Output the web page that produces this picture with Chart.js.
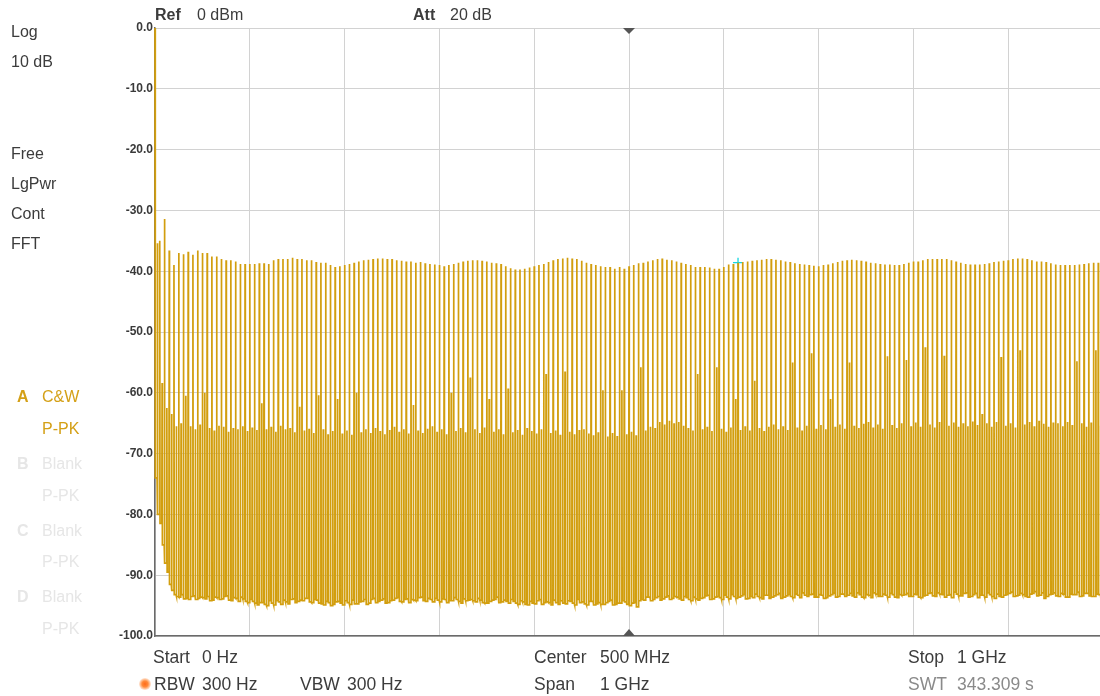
<!DOCTYPE html>
<html>
<head>
<meta charset="utf-8">
<title>Spectrum 0 Hz - 1 GHz</title>
<script src="https://cdn.jsdelivr.net/npm/chart.js@4.4.1/dist/chart.umd.min.js"></script>
<style>
  html, body { margin: 0; padding: 0; background: #fff; overflow: hidden; }
  #wrap { position: relative; width: 1100px; height: 696px; overflow: hidden;
          font-family: "Liberation Sans", Arial, sans-serif; color: #3c3c3c; }
  #plot { position: absolute; left: 0; top: 0; }
  .t { position: absolute; white-space: nowrap; line-height: 20px; font-size: 16px; }
  .b { font-size: 17.5px; }
  .bold { font-weight: bold; }
  .gold { color: #d4a017; }
  .off { color: #e6e6e6; }
  .grey { color: #8a8a8a; }
  #rbwDot { position: absolute; left: 139px; top: 678px; width: 12px; height: 12px; border-radius: 50%;
            background: radial-gradient(circle, #ff6a1a 0%, #ff8a3a 35%, rgba(255,150,80,0.35) 65%, rgba(255,170,110,0) 100%); }
</style>
</head>
<body>
<div id="wrap">
  <canvas id="plot" width="1103" height="696"></canvas>

  <!-- left status column -->
  <div class="t" style="left:11px;top:22px">Log</div>
  <div class="t" style="left:11px;top:52px">10 dB</div>
  <div class="t" style="left:11px;top:144px">Free</div>
  <div class="t" style="left:11px;top:174px">LgPwr</div>
  <div class="t" style="left:11px;top:204px">Cont</div>
  <div class="t" style="left:11px;top:234px">FFT</div>

  <div class="t bold gold" style="left:17px;top:387px">A</div>
  <div class="t gold" style="left:42px;top:387px">C&amp;W</div>
  <div class="t gold" style="left:42px;top:419px">P-PK</div>
  <div class="t bold off" style="left:17px;top:454px">B</div>
  <div class="t off" style="left:42px;top:454px">Blank</div>
  <div class="t off" style="left:42px;top:486px">P-PK</div>
  <div class="t bold off" style="left:17px;top:521px">C</div>
  <div class="t off" style="left:42px;top:521px">Blank</div>
  <div class="t off" style="left:42px;top:552px">P-PK</div>
  <div class="t bold off" style="left:17px;top:587px">D</div>
  <div class="t off" style="left:42px;top:587px">Blank</div>
  <div class="t off" style="left:42px;top:619px">P-PK</div>

  <!-- top line -->
  <div class="t bold" style="left:155px;top:5px">Ref</div>
  <div class="t" style="left:197px;top:5px">0 dBm</div>
  <div class="t bold" style="left:413px;top:5px">Att</div>
  <div class="t" style="left:450px;top:5px">20 dB</div>

  <!-- bottom lines -->
  <div class="t b" style="left:153px;top:647px">Start</div>
  <div class="t b" style="left:202px;top:647px">0 Hz</div>
  <div class="t b" style="left:534px;top:647px">Center</div>
  <div class="t b" style="left:600px;top:647px">500 MHz</div>
  <div class="t b" style="left:908px;top:647px">Stop</div>
  <div class="t b" style="left:957px;top:647px">1 GHz</div>

  <div id="rbwDot"></div>
  <div class="t b" style="left:154px;top:674px">RBW</div>
  <div class="t b" style="left:202px;top:674px">300 Hz</div>
  <div class="t b" style="left:300px;top:674px">VBW</div>
  <div class="t b" style="left:347px;top:674px">300 Hz</div>
  <div class="t b" style="left:534px;top:674px">Span</div>
  <div class="t b" style="left:600px;top:674px">1 GHz</div>
  <div class="t b grey" style="left:908px;top:674px">SWT</div>
  <div class="t b grey" style="left:957px;top:674px">343.309 s</div>
</div>

<script>
// sweep settings (MHz / dBm)
const startMHz = 0;
const stopMHz = 1000;
const centerMHz = 500;
const combStepMHz = 5;
const dcLevel = 0.0;                 // LO feedthrough at 0 Hz
// sample spots inside each 5 MHz cell: floor, floor, mid line, floor, floor, comb line
const cellOffsetsMHz = [0.3, 2.2, 2.5, 2.8, 4.7, 5];

const refLevel = 0;
const bottomLevel = -100;
const yTickStep = 10;
const xGridStep = 100;

// marker (cyan +)
const markerMHz = 615;
const markerDbm = -38.6;

// comb lines at 5, 10, ... 1000 MHz
const peakDbm = [
  -35.0, -31.4, -36.6, -39.0, -37.0, -37.2, -36.8, -37.3, -36.6, -37.0,
  -37.0, -37.6, -37.6, -38.0, -38.2, -38.2, -38.4, -38.8, -38.8, -38.8,
  -38.8, -38.7, -38.7, -38.8, -38.2, -38.0, -38.0, -38.0, -37.8, -38.0,
  -38.0, -38.2, -38.2, -38.5, -38.6, -38.6, -39.0, -39.3, -39.2, -39.0,
  -38.8, -38.6, -38.4, -38.2, -38.1, -38.0, -37.9, -37.9, -38.0, -38.0,
  -38.2, -38.3, -38.4, -38.4, -38.6, -38.5, -38.7, -38.8, -38.9, -39.0,
  -39.2, -39.0, -38.8, -38.6, -38.4, -38.3, -38.2, -38.2, -38.3, -38.4,
  -38.6, -38.7, -38.8, -39.2, -39.5, -39.7, -39.7, -39.6, -39.4, -39.2,
  -39.0, -38.8, -38.5, -38.2, -38.0, -37.9, -37.8, -37.9, -38.0, -38.3,
  -38.6, -38.8, -39.0, -39.2, -39.3, -39.3, -39.6, -39.3, -39.6, -39.2,
  -39.0, -38.7, -38.6, -38.4, -38.2, -38.0, -37.9, -38.1, -38.2, -38.4,
  -38.6, -38.8, -39.0, -39.3, -39.3, -39.3, -39.4, -39.6, -39.6, -39.3,
  -38.9, -38.8, -38.6, -38.5, -38.4, -38.3, -38.2, -38.1, -38.0, -38.0,
  -38.1, -38.2, -38.4, -38.5, -38.7, -38.8, -38.9, -39.0, -39.1, -39.2,
  -39.0, -38.9, -38.7, -38.5, -38.3, -38.2, -38.1, -38.2, -38.3, -38.4,
  -38.6, -38.7, -38.8, -38.9, -38.9, -39.0, -39.0, -38.8, -38.6, -38.4,
  -38.4, -38.2, -38.0, -38.0, -38.0, -38.0, -38.0, -38.2, -38.4, -38.6,
  -38.8, -38.9, -38.9, -38.9, -38.8, -38.7, -38.5, -38.4, -38.3, -38.2,
  -38.0, -37.9, -37.9, -38.0, -38.2, -38.4, -38.4, -38.5, -38.7, -38.9,
  -39.0, -39.0, -39.0, -39.0, -38.9, -38.8, -38.7, -38.6, -38.6, -38.6
];

// in-between lines at 2.5, 7.5, ... 997.5 MHz
const midDbm = [
  -35.4, -58.4, -62.5, -63.5, -65.5, -65.0, -60.5, -65.5, -66.0, -65.2,
  -60.0, -65.8, -66.2, -65.4, -65.6, -66.4, -65.8, -66.0, -65.5, -66.3,
  -65.7, -66.1, -61.7, -66.0, -65.6, -66.4, -65.4, -66.0, -65.8, -66.5,
  -62.3, -66.2, -65.9, -66.6, -60.4, -66.0, -66.8, -66.3, -61.0, -66.7,
  -66.2, -66.9, -60.0, -66.5, -66.0, -66.6, -65.8, -66.3, -66.8, -66.1,
  -65.6, -66.4, -66.0, -66.7, -62.0, -66.2, -66.6, -65.9, -65.5, -66.4,
  -66.0, -66.8, -60.0, -66.3, -65.8, -66.5, -57.5, -66.0, -66.6, -65.7,
  -61.0, -66.4, -66.0, -66.8, -59.3, -66.5, -66.1, -66.9, -65.8, -66.3,
  -66.7, -66.0, -56.9, -66.6, -66.2, -66.9, -56.5, -66.4, -66.8, -66.1,
  -66.0, -66.7, -67.0, -66.5, -59.6, -67.2, -66.6, -67.1, -59.6, -66.8,
  -66.4, -67.0, -55.8, -66.2, -65.6, -65.8, -64.8, -65.2, -64.6, -65.0,
  -64.8, -65.4, -65.8, -66.2, -56.9, -66.0, -65.6, -66.3, -55.8, -65.9,
  -66.4, -65.7, -61.0, -66.1, -65.5, -66.2, -58.0, -65.8, -66.3, -65.6,
  -65.2, -66.0, -65.5, -66.1, -55.0, -65.7, -66.2, -65.4, -53.5, -65.9,
  -65.3, -66.0, -61.0, -65.6, -65.2, -65.9, -55.0, -65.4, -65.8, -65.1,
  -64.8, -65.7, -65.2, -65.9, -54.0, -65.3, -65.8, -65.0, -54.6, -65.5,
  -64.9, -65.6, -52.5, -65.2, -65.7, -64.8, -53.9, -65.4, -64.9, -65.6,
  -65.0, -65.5, -64.7, -65.3, -63.5, -65.0, -65.6, -64.8, -54.1, -65.4,
  -65.0, -65.7, -53.0, -65.2, -64.8, -65.5, -64.6, -65.1, -65.6, -64.9,
  -65.0, -65.5, -64.8, -65.3, -54.8, -65.0, -65.6, -64.9, -53.0, -65.4
];

// noise floor between a comb line and the following mid line
const floorA = [
  -74.0, -81.5, -88.0, -91.5, -93.2, -93.6, -93.9, -94.0, -93.4, -93.8,
  -93.7, -93.5, -94.1, -93.7, -93.9, -93.4, -94.2, -93.8, -93.6, -94.3,
  -94.0, -94.6, -94.5, -94.8, -94.2, -94.9, -94.4, -94.1, -94.7, -93.9,
  -94.3, -94.2, -93.8, -94.5, -94.1, -94.7, -94.3, -95.0, -94.4, -94.6,
  -94.2, -94.8, -94.7, -94.4, -94.0, -94.6, -93.8, -94.3, -93.9, -94.5,
  -94.1, -93.7, -94.4, -93.9, -94.0, -94.2, -93.6, -94.3, -94.0, -93.8,
  -94.4, -94.0, -94.2, -93.7, -94.3, -93.9, -94.1, -94.2, -93.8, -94.5,
  -94.6, -94.1, -93.6, -94.4, -94.3, -94.0, -94.6, -94.2, -94.8, -94.3,
  -94.7, -94.0, -94.5, -94.5, -94.1, -94.8, -94.6, -94.2, -94.6, -94.0,
  -94.4, -94.9, -94.3, -94.7, -94.8, -94.5, -94.1, -94.8, -94.6, -94.4,
  -95.0, -94.5, -94.2, -94.1, -93.6, -94.0, -93.5, -93.9, -93.4, -93.8,
  -93.6, -94.1, -93.7, -94.2, -93.9, -93.8, -93.4, -94.0, -93.6, -93.7,
  -93.3, -93.9, -93.5, -93.6, -93.2, -93.8, -93.7, -93.5, -93.9, -93.3,
  -93.6, -93.2, -93.8, -93.4, -93.5, -93.1, -93.7, -93.3, -93.2, -93.6,
  -93.2, -93.8, -93.4, -93.0, -93.5, -93.1, -93.3, -93.4, -92.9, -93.6,
  -93.2, -93.7, -93.1, -93.5, -93.3, -93.0, -93.6, -93.2, -93.2, -93.5,
  -93.1, -93.6, -93.4, -93.0, -93.4, -92.9, -93.2, -93.3, -93.7, -93.1,
  -93.4, -92.9, -93.5, -93.0, -93.3, -93.6, -93.2, -93.8, -93.5, -93.3,
  -93.0, -93.5, -93.3, -93.2, -93.6, -93.0, -93.4, -92.9, -93.5, -93.1,
  -93.4, -93.0, -93.6, -93.1, -93.2, -93.5, -93.0, -93.4, -93.5, -93.2
];

// noise floor between a mid line and the next comb line
const floorB = [
  -80.0, -85.0, -89.5, -92.5, -93.5, -93.2, -93.8, -93.5, -94.0, -93.6,
  -93.9, -94.2, -93.6, -94.0, -93.5, -94.1, -93.7, -94.3, -93.9, -94.5,
  -94.3, -94.9, -94.5, -95.0, -94.6, -94.2, -94.8, -94.4, -94.0, -94.5,
  -94.1, -93.8, -94.4, -94.0, -94.6, -94.9, -94.5, -94.8, -94.3, -94.9,
  -94.5, -94.1, -94.7, -94.3, -94.8, -94.0, -94.5, -94.1, -94.6, -94.2,
  -93.8, -94.3, -94.0, -94.5, -94.1, -93.7, -94.2, -93.8, -94.4, -94.1,
  -93.9, -94.5, -94.2, -94.0, -94.6, -94.2, -94.0, -94.4, -94.1, -94.6,
  -94.3, -94.0, -94.5, -94.1, -94.6, -94.3, -94.8, -94.4, -94.9, -94.6,
  -94.2, -94.8, -94.4, -94.9, -94.5, -94.2, -94.7, -94.3, -94.9, -94.5,
  -94.7, -94.3, -94.9, -94.5, -94.8, -94.3, -94.9, -94.6, -94.2, -94.8,
  -94.6, -95.2, -94.0, -93.6, -94.2, -93.7, -94.1, -93.6, -94.0, -93.5,
  -93.9, -93.5, -94.0, -93.6, -94.1, -93.7, -93.3, -93.9, -93.5, -94.0,
  -93.6, -93.2, -93.8, -93.4, -93.9, -93.5, -93.1, -93.7, -93.3, -93.8,
  -93.4, -93.0, -93.6, -93.2, -93.7, -93.3, -92.9, -93.5, -93.1, -93.6,
  -93.3, -93.7, -93.2, -93.6, -93.1, -93.5, -93.0, -93.6, -93.2, -93.7,
  -93.3, -92.9, -93.5, -93.1, -93.6, -93.2, -93.7, -93.3, -93.0, -93.5,
  -93.2, -93.7, -93.3, -92.9, -93.5, -93.1, -93.6, -93.2, -92.8, -93.4,
  -93.0, -93.6, -93.2, -93.7, -93.3, -92.9, -93.5, -93.1, -93.6, -93.2,
  -92.8, -93.4, -93.0, -93.5, -93.1, -92.7, -93.3, -93.8, -93.2, -92.9,
  -93.5, -93.1, -93.6, -93.2, -92.8, -93.4, -93.0, -93.5, -93.1, -93.6
];

const traceColor = 'rgb(210,158,14)';
const gridColor = '#d2d2d2';
const axisColor = '#6a6a6a';

// build the sweep: DC, then floor / mid / floor / comb line for every 5 MHz cell
const trace = [{ x: startMHz, y: dcLevel }];
for (let k = 0; k < peakDbm.length; k++) {
  const f0 = startMHz + k * combStepMHz;
  const levels = [floorA[k], floorA[k], midDbm[k], floorB[k], floorB[k], peakDbm[k]];
  for (let j = 0; j < cellOffsetsMHz.length; j++) {
    trace.push({ x: f0 + cellOffsetsMHz[j], y: levels[j] });
  }
}

// centre frequency triangles on top and bottom edge
const centerTicks = {
  id: 'centerTicks',
  afterDatasetsDraw(chart) {
    const c = chart.ctx;
    const a = chart.chartArea;
    const x = chart.scales.x.getPixelForValue(centerMHz);
    c.save();
    c.fillStyle = '#555';
    c.beginPath();
    c.moveTo(x - 6, a.top);
    c.lineTo(x + 6, a.top);
    c.lineTo(x, a.top + 6);
    c.closePath();
    c.fill();
    c.beginPath();
    c.moveTo(x - 6, a.bottom);
    c.lineTo(x + 6, a.bottom);
    c.lineTo(x, a.bottom - 7);
    c.closePath();
    c.fill();
    c.restore();
  }
};

const ctx = document.getElementById('plot');
new Chart(ctx, {
  type: 'line',
  data: {
    datasets: [
      {
        data: trace,
        borderColor: traceColor,
        borderWidth: 1.7,
        pointRadius: 0,
        tension: 0,
        fill: false,
        clip: false
      },
      {
        type: 'scatter',
        data: [{ x: markerMHz, y: markerDbm }],
        pointStyle: 'cross',
        pointRadius: 5,
        borderColor: '#16d6e0',
        borderWidth: 1.3
      }
    ]
  },
  options: {
    responsive: false,
    animation: false,
    devicePixelRatio: 1,
    normalized: true,
    layout: { autoPadding: false, padding: { top: 28, bottom: 60, left: 0, right: 0 } },
    plugins: { legend: { display: false }, tooltip: { enabled: false } },
    scales: {
      x: {
        type: 'linear',
        min: startMHz,
        max: stopMHz,
        ticks: { display: false, stepSize: xGridStep },
        grid: { color: gridColor, drawTicks: false },
        border: { color: axisColor, width: 1.5 }
      },
      y: {
        min: bottomLevel,
        max: refLevel,
        ticks: {
          stepSize: yTickStep,
          padding: 2,
          color: '#3a3a3a',
          font: { family: '"Liberation Sans", Arial, sans-serif', size: 12, weight: 'bold' },
          callback: v => v.toFixed(1)
        },
        grid: { color: gridColor, drawTicks: false },
        border: { color: axisColor, width: 1.5 },
        afterFit: s => { s.width = 155; }
      }
    }
  },
  plugins: [centerTicks]
});
</script>
</body>
</html>
